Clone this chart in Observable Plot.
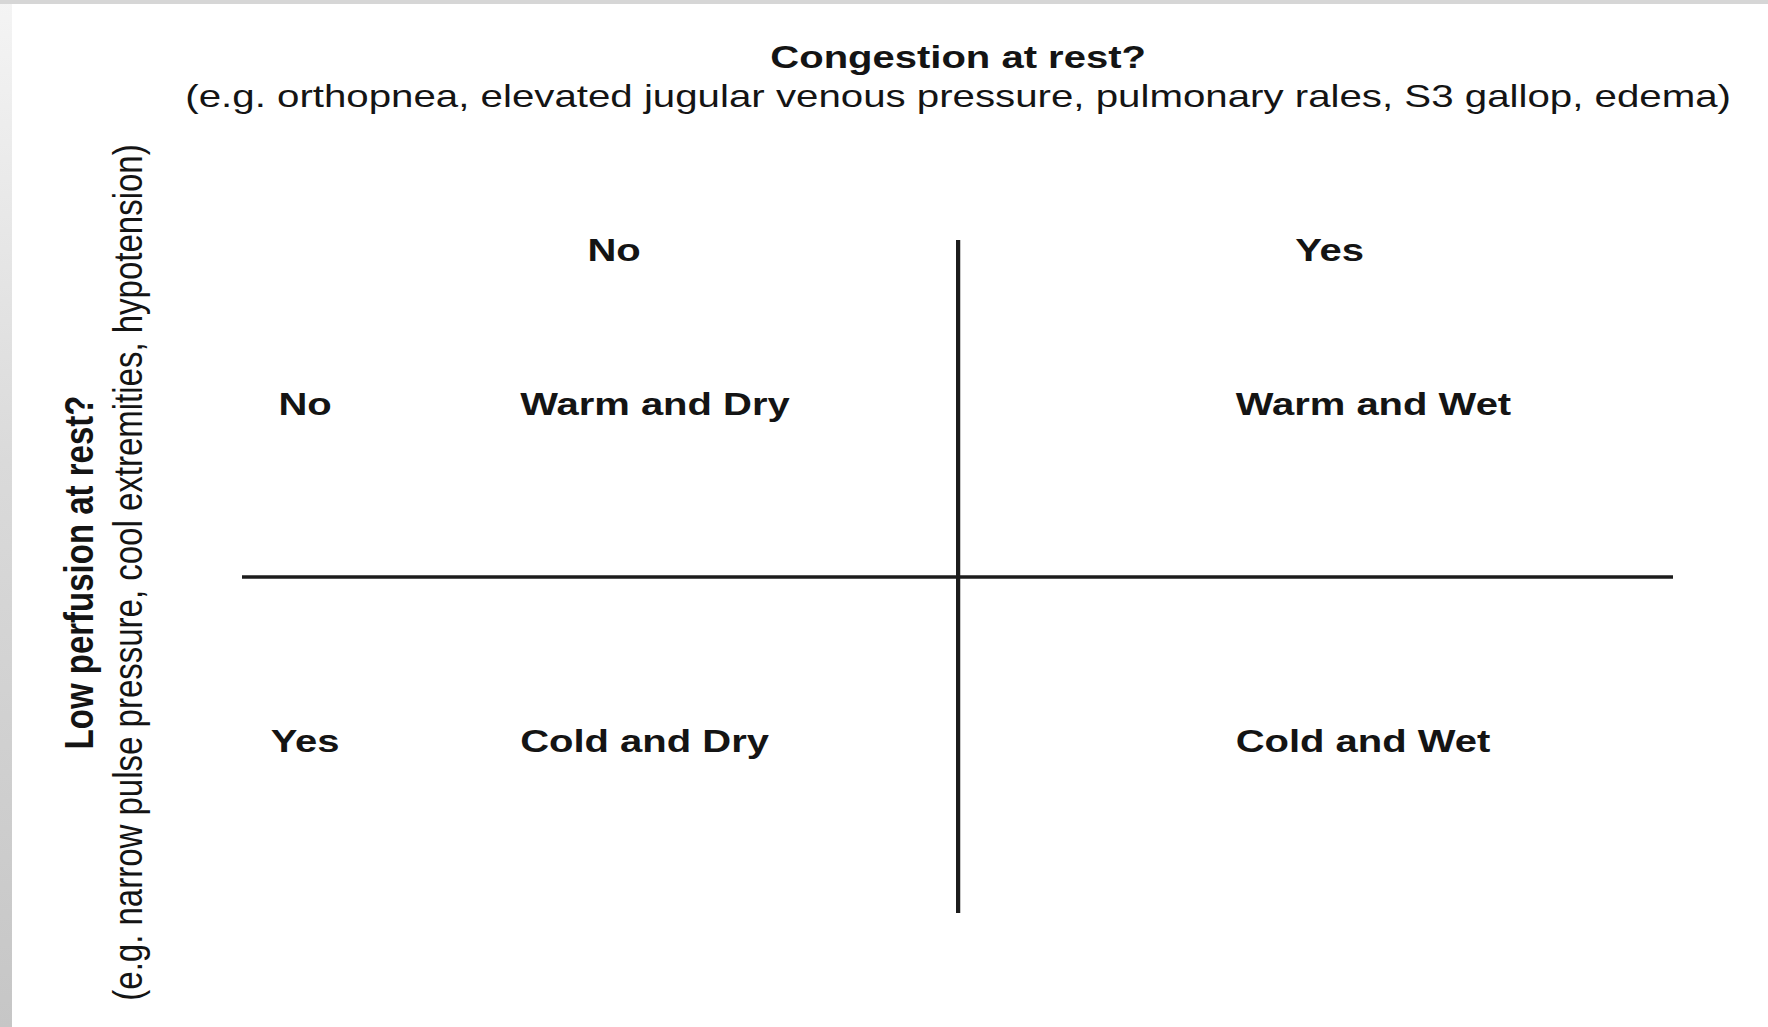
<!DOCTYPE html>
<html>
<head>
<meta charset="utf-8">
<script src="https://cdn.jsdelivr.net/npm/d3@7"></script>
<script src="https://cdn.jsdelivr.net/npm/@observablehq/plot@0.6"></script>
<style>
  html, body { margin: 0; padding: 0; background: #fff; overflow: hidden; }
  #wrap { position: relative; width: 1768px; height: 1027px; }
  #edge-left { position: absolute; left: 0; top: 0; width: 12px; height: 1027px;
    background: linear-gradient(to bottom, #f4f4f4, #dadada 45%, #c6c6c6); z-index: 2; }
  #edge-top { position: absolute; left: 0; top: 0; width: 1768px; height: 4px;
    background: #d6d6d6; z-index: 2; }
</style>
</head>
<body>
<div id="wrap"><div id="edge-left"></div><div id="edge-top"></div></div>
<script>
// ---- data ----
const congestion = ["No", "Yes"];   // column categories (x)
const perfusion = ["No", "Yes"];    // row categories (y)
const quadrantLabels = ["Warm and Dry", "Warm and Wet", "Cold and Dry", "Cold and Wet"];
const quadrantCol = [0, 1, 0, 1];
const quadrantRow = [0, 0, 1, 1];
const xTitle = ["Congestion at rest?"];
const xSubtitle = ["(e.g. orthopnea, elevated jugular venous pressure, pulmonary rales, S3 gallop, edema)"];
const yTitle = ["Low perfusion at rest?"];
const ySubtitle = ["(e.g. narrow pulse pressure, cool extremities, hypotension)"];

// the original figure is stretched horizontally; reproduce by drawing at a narrower width and stretching
const STRETCH = 1.25;
const W = 1768 / STRETCH;
const ink = "#141414";
const font = "'Liberation Sans', Arial, Helvetica, sans-serif";

const chart = Plot.plot({
  width: W,
  height: 1027,
  marginLeft: 242 / STRETCH,
  marginRight: (1768 - 1673) / STRETCH,
  marginTop: 240,
  marginBottom: 1027 - 913,
  x: {domain: [0, congestion.length], axis: null},
  y: {domain: [0, perfusion.length], reverse: true, axis: null},
  style: {fontFamily: font, background: "transparent", color: ink},
  marks: [
    Plot.ruleX(d3.range(1, congestion.length), {y1: 0, y2: perfusion.length, stroke: "#1c1c1c", strokeWidth: 3.4}),
    Plot.ruleY(d3.range(1, perfusion.length), {x1: 0, x2: congestion.length, stroke: "#1c1c1c", strokeWidth: 3.4}),
    // column headers
    Plot.text(congestion, {x: (d, i) => i + 0.5, y: () => 0, dx: 11, dy: 10, fontSize: 32, fontWeight: "bold", fill: ink}),
    // row headers
    Plot.text(perfusion, {x: () => 0, y: (d, i) => i + 0.5, dx: 50, dy: -3.5, fontSize: 32, fontWeight: "bold", fill: ink}),
    // quadrant labels
    Plot.text(quadrantLabels, {x: (d, i) => quadrantCol[i], y: (d, i) => quadrantRow[i] + 0.5, textAnchor: "start", dx: 222, dy: -3.5, fontSize: 32, fontWeight: "bold", fill: ink}),
    // x title & subtitle
    Plot.text(xTitle, {frameAnchor: "top", lineAnchor: "middle", textAnchor: "middle", dy: -183, fontSize: 32, fontWeight: "bold", fill: ink}),
    Plot.text(xSubtitle, {frameAnchor: "top", lineAnchor: "middle", textAnchor: "middle", dy: -144, fontSize: 32.2, fill: ink}),
    // y title & subtitle (rotated)
    Plot.text(yTitle, {frameAnchor: "left", rotate: -90, textAnchor: "middle", lineAnchor: "middle", dx: -130, dy: -4.5, fontSize: 33, fontWeight: "bold", fill: ink}),
    Plot.text(ySubtitle, {frameAnchor: "left", rotate: -90, textAnchor: "middle", lineAnchor: "middle", dx: -91, dy: -4.5, fontSize: 33, fill: ink})
  ]
});

chart.setAttribute("preserveAspectRatio", "none");
chart.setAttribute("width", 1768);
chart.setAttribute("height", 1027);
chart.style.width = "1768px";
chart.style.height = "1027px";
chart.style.maxWidth = "none";
chart.style.position = "absolute";
chart.style.left = "0";
chart.style.top = "0";
document.getElementById("wrap").appendChild(chart);
</script>
</body>
</html>
